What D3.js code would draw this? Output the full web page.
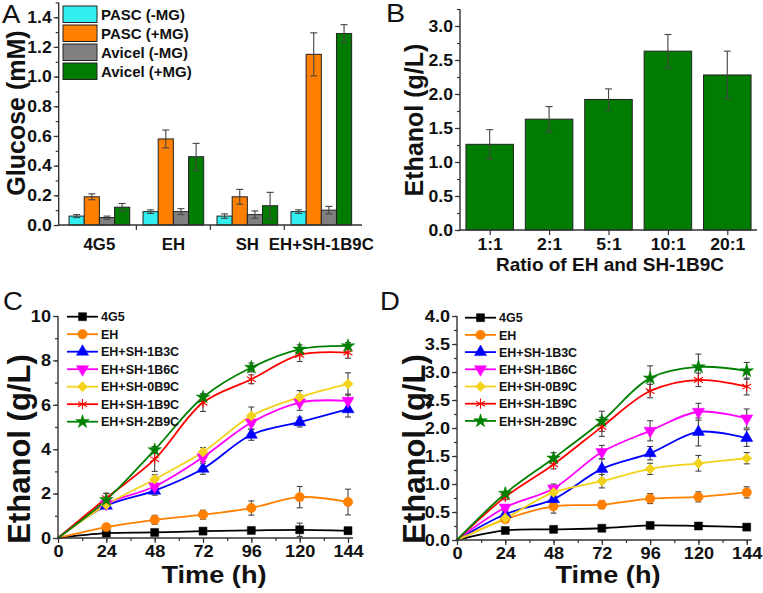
<!DOCTYPE html>
<html><head><meta charset="utf-8">
<script src="https://cdn.jsdelivr.net/npm/d3@7"></script>
<style>
body{margin:0;background:#fff}
svg{display:block}
text{font-family:"Liberation Sans",Arial,sans-serif;font-weight:bold;fill:#111}
</style></head><body>
<svg id="c" width="763" height="593"></svg>
<script>
// ---------- Panel A data ----------
const aGroups = ["4G5", "EH", "SH", "EH+SH-1B9C"];
const aSeries = ["PASC (-MG)", "PASC (+MG)", "Avicel (-MG)", "Avicel (+MG)"];
const aPascMinus = [0.06, 0.09, 0.06, 0.09];
const aPascMinusErr = [0.01, 0.012, 0.015, 0.012];
const aPascPlus = [0.19, 0.58, 0.19, 1.15];
const aPascPlusErr = [0.02, 0.06, 0.05, 0.145];
const aAviMinus = [0.05, 0.09, 0.07, 0.10];
const aAviMinusErr = [0.01, 0.02, 0.025, 0.025];
const aAviPlus = [0.12, 0.46, 0.13, 1.29];
const aAviPlusErr = [0.025, 0.09, 0.09, 0.06];
const aColors = ["#33eeee", "#ff8000", "#808080", "#007d00"];
const aYTicks = [0, 0.2, 0.4, 0.6, 0.8, 1.0, 1.2, 1.4];

// ---------- Panel B data ----------
const bRatios = ["1:1", "2:1", "5:1", "10:1", "20:1"];
const bEthanol = [1.26, 1.63, 1.92, 2.63, 2.28];
const bErr = [0.215, 0.185, 0.155, 0.245, 0.35];
const bYTicks = [0, 0.5, 1.0, 1.5, 2.0, 2.5, 3.0];

// ---------- Panels C / D data ----------
const times = [0, 24, 48, 72, 96, 120, 144];
const strains = ["4G5", "EH", "EH+SH-1B3C", "EH+SH-1B6C", "EH+SH-0B9C", "EH+SH-1B9C", "EH+SH-2B9C"];
const lineColors = ["#000000", "#ff8000", "#0000ff", "#ff00ff", "#f2d21a", "#ff0000", "#008000"];
const markerTypes = ["square", "circle", "triangle", "triangleDown", "diamond", "asterisk", "star"];

const c4G5 = [0, 0.22, 0.25, 0.31, 0.34, 0.37, 0.33];
const cEH = [0, 0.49, 0.82, 1.05, 1.35, 1.84, 1.62];
const c1B3C = [0, 1.45, 2.13, 3.12, 4.65, 5.22, 5.8];
const c1B6C = [0, 1.53, 2.32, 3.64, 5.2, 6.1, 6.18];
const c0B9C = [0, 1.5, 2.65, 3.87, 5.5, 6.34, 6.94];
const c1B9C = [0, 1.8, 3.55, 6.1, 7.15, 8.25, 8.35];
const c2B9C = [0, 1.72, 3.97, 6.34, 7.68, 8.5, 8.65];
const c4G5Err = [0, 0.05, 0.05, 0.05, 0.05, 0.3, 0.15];
const cEHErr = [0, 0.12, 0.2, 0.2, 0.32, 0.48, 0.58];
const c1B3CErr = [0, 0.1, 0.2, 0.25, 0.25, 0.22, 0.35];
const c1B6CErr = [0, 0.1, 0.15, 0.2, 0.3, 0.35, 0.3];
const c0B9CErr = [0, 0.1, 0.2, 0.2, 0.4, 0.3, 0.5];
const c1B9CErr = [0, 0.2, 0.55, 0.4, 0.2, 0.3, 0.25];
const c2B9CErr = [0, 0.3, 0.15, 0.15, 0.2, 0.2, 0.15];

const d4G5 = [0, 0.17, 0.19, 0.21, 0.26, 0.25, 0.23];
const dEH = [0, 0.37, 0.6, 0.63, 0.74, 0.77, 0.85];
const d1B3C = [0, 0.46, 0.73, 1.27, 1.55, 1.93, 1.82];
const d1B6C = [0, 0.58, 0.92, 1.57, 1.95, 2.29, 2.17];
const d0B9C = [0, 0.39, 0.85, 1.05, 1.27, 1.37, 1.46];
const d1B9C = [0, 0.77, 1.35, 2.02, 2.66, 2.86, 2.74];
const d2B9C = [0, 0.83, 1.46, 2.12, 2.89, 3.09, 3.02];
const d4G5Err = [0, 0.03, 0.03, 0.03, 0.03, 0.03, 0.04];
const dEHErr = [0, 0.05, 0.12, 0.07, 0.09, 0.09, 0.1];
const d1B3CErr = [0, 0.05, 0.06, 0.18, 0.12, 0.25, 0.15];
const d1B6CErr = [0, 0.05, 0.08, 0.12, 0.18, 0.15, 0.17];
const d0B9CErr = [0, 0.05, 0.08, 0.12, 0.1, 0.14, 0.1];
const d1B9CErr = [0, 0.05, 0.08, 0.17, 0.12, 0.12, 0.15];
const d2B9CErr = [0, 0.03, 0.1, 0.18, 0.22, 0.23, 0.15];
const cdXTicks = [0, 24, 48, 72, 96, 120, 144];
const cYTicks = [0, 2, 4, 6, 8, 10];
const dYTicks = [0, 0.5, 1.0, 1.5, 2.0, 2.5, 3.0, 3.5, 4.0];

// ---------- drawing ----------
const svg = d3.select("#c");
const AX = "#333";
const ERR = "#444";
const TSX = 1.1; // horizontal stretch of tick labels

function styleAxis(g, fs, sx) {
  g.select(".domain").remove();
  g.selectAll(".tick line").attr("stroke", AX).attr("stroke-width", 1.2);
  g.selectAll(".tick text").style("font-size", fs + "px").attr("fill", "#111");
  if (sx) {
    g.selectAll(".tick text").each(function () {
      const t = d3.select(this);
      const x = +t.attr("x") || 0;
      t.attr("transform", `translate(${x},0) scale(${sx},1) translate(${-x},0)`);
    });
  }
}
function vline(x, y1, y2) {
  svg.append("line").attr("x1", x).attr("x2", x).attr("y1", y1).attr("y2", y2)
    .attr("stroke", AX).attr("stroke-width", 1.4);
}
function hline(y, x1, x2) {
  svg.append("line").attr("x1", x1).attr("x2", x2).attr("y1", y).attr("y2", y)
    .attr("stroke", AX).attr("stroke-width", 1.4);
}
function leftAxis(x, scale, major, minor, fmt, fs) {
  svg.append("g").attr("transform", `translate(${x},0)`)
    .call(d3.axisLeft(scale).tickValues(minor).tickSize(3).tickFormat(""))
    .call(g => styleAxis(g, fs));
  svg.append("g").attr("transform", `translate(${x},0)`)
    .call(d3.axisLeft(scale).tickValues(major).tickSize(5).tickPadding(2).tickFormat(fmt))
    .call(g => styleAxis(g, fs, TSX));
}
function bottomAxis(y, scale, major, minor, fmt, fs, pad) {
  if (minor.length)
    svg.append("g").attr("transform", `translate(0,${y})`)
      .call(d3.axisBottom(scale).tickValues(minor).tickSize(3).tickFormat(""))
      .call(g => styleAxis(g, fs));
  svg.append("g").attr("transform", `translate(0,${y})`)
    .call(d3.axisBottom(scale).tickValues(major).tickSize(5).tickPadding(pad).tickFormat(fmt))
    .call(g => styleAxis(g, fs, TSX));
}
function label(txt, x, y, fs, opts = {}) {
  const sx = opts.sx || 1;
  const t = svg.append("text").attr("x", 0).attr("y", 0).text(txt)
    .style("font-size", fs + "px")
    .attr("transform", `translate(${x},${y}) scale(${sx},1)` + (opts.rotate ? " rotate(-90)" : ""));
  if (opts.anchor) t.attr("text-anchor", opts.anchor);
  if (opts.normal) t.style("font-weight", "normal");
  return t;
}
function errBar(x, y1, y2, cap) {
  const g = svg.append("g").attr("stroke", ERR).attr("stroke-width", 1.1);
  g.append("line").attr("x1", x).attr("x2", x).attr("y1", y1).attr("y2", y2);
  g.append("line").attr("x1", x - cap).attr("x2", x + cap).attr("y1", y1).attr("y2", y1);
  g.append("line").attr("x1", x - cap).attr("x2", x + cap).attr("y1", y2).attr("y2", y2);
}

// ===== Panel A =====
{
  const x0 = d3.scaleBand().domain(aGroups).range([58.7, 362]).paddingInner(0.18).paddingOuter(0.14);
  const x1 = d3.scaleBand().domain(aSeries).range([0, x0.bandwidth()]);
  const y = d3.scaleLinear().domain([0, 1.5]).range([225, 2.4]);
  const vals = [aPascMinus, aPascPlus, aAviMinus, aAviPlus];
  const errs = [aPascMinusErr, aPascPlusErr, aAviMinusErr, aAviPlusErr];
  aSeries.forEach((s, si) => {
    aGroups.forEach((gname, gi) => {
      const bx = x0(gname) + x1(s);
      svg.append("rect").attr("x", bx).attr("y", y(vals[si][gi]))
        .attr("width", x1.bandwidth()).attr("height", y(0) - y(vals[si][gi]))
        .attr("fill", aColors[si]).attr("stroke", "#222").attr("stroke-width", 1);
    });
  });
  aSeries.forEach((s, si) => {
    aGroups.forEach((gname, gi) => {
      const cx = x0(gname) + x1(s) + x1.bandwidth() / 2;
      errBar(cx, y(vals[si][gi] + errs[si][gi]), y(vals[si][gi] - errs[si][gi]), 3.5);
    });
  });
  const minor = d3.range(0, 1.51, 0.1).map(v => +v.toFixed(2));
  leftAxis(58.7, y, aYTicks, minor, d3.format(".1f"), 16);
  const step = x0.step();
  const seps = aGroups.slice(1).map(gn => x0(gn) - (step - x0.bandwidth()) / 2);
  svg.append("g").attr("stroke", AX).attr("stroke-width", 1.2).selectAll("line").data(seps).join("line")
    .attr("x1", d => d).attr("x2", d => d).attr("y1", 225).attr("y2", 230);
  aGroups.forEach(gn => label(gn, x0(gn) + x0.bandwidth() / 2, 250, 16, {anchor: "middle", sx: 1.05}));
  vline(58.7, 2.4, 225.5);
  hline(225, 58, 362);
  label("Glucose (mM)", 25, 113, 25, {anchor: "middle", rotate: true});
  label("A", 2, 23, 25, {normal: true, sx: 1.1});
  aSeries.forEach((s, i) => {
    const yy = 6 + i * 19;
    svg.append("rect").attr("x", 63).attr("y", yy).attr("width", 34).attr("height", 16.5)
      .attr("fill", aColors[i]).attr("stroke", "#222").attr("stroke-width", 1);
    label(s, 101, yy + 14, 15);
  });
}

// ===== Panel B =====
{
  const x = d3.scaleBand().domain(bRatios).range([460, 757]).paddingInner(0.2).paddingOuter(0.1);
  const y = d3.scaleLinear().domain([0, 3.25]).range([230, 9]);
  bRatios.forEach((r, i) => {
    svg.append("rect").attr("x", x(r)).attr("y", y(bEthanol[i])).attr("width", x.bandwidth())
      .attr("height", y(0) - y(bEthanol[i])).attr("fill", "#007d00").attr("stroke", "#222").attr("stroke-width", 1);
  });
  bRatios.forEach((r, i) => {
    errBar(x(r) + x.bandwidth() / 2, y(bEthanol[i] + bErr[i]), y(bEthanol[i] - bErr[i]), 3.5);
  });
  const minor = d3.range(0, 3.26, 0.25).map(v => +v.toFixed(2));
  leftAxis(460, y, bYTicks, minor, d3.format(".1f"), 16);
  const bx = d3.scalePoint().domain(bRatios).range([x(bRatios[0]) + x.bandwidth() / 2, x(bRatios[4]) + x.bandwidth() / 2]);
  bottomAxis(230, bx, bRatios, [], d => d, 16, 4);
  vline(460, 9, 230.5);
  hline(230, 459.5, 757);
  label("Ratio of EH and SH-1B9C", 610, 271, 19, {anchor: "middle"});
  label("Ethanol (g/L)", 423, 120, 25, {anchor: "middle", rotate: true});
  label("B", 386, 22, 25, {normal: true, sx: 1.15});
}

// ===== Marker helper =====
function marker(g, type, cx, cy, color) {
  let sym, size = 60, rot = 0, fill = color, stroke = color, sw = 0.5;
  if (type === "square") { sym = d3.symbolSquare; size = 64; }
  else if (type === "circle") { sym = d3.symbolCircle; size = 70; }
  else if (type === "triangle") { sym = d3.symbolTriangle; size = 64; }
  else if (type === "triangleDown") { sym = d3.symbolTriangle; size = 64; rot = 180; }
  else if (type === "diamond") { sym = d3.symbolSquare; size = 52; rot = 45; }
  else if (type === "asterisk") { sym = d3.symbolAsterisk; size = 75; fill = "none"; sw = 1.1; }
  else if (type === "star") { sym = d3.symbolStar; size = 58; }
  g.append("path").attr("d", d3.symbol(sym, size)())
    .attr("transform", `translate(${cx},${cy}) rotate(${rot})`)
    .attr("fill", fill).attr("stroke", stroke).attr("stroke-width", sw);
}

function linePanel(cfg) {
  const x = d3.scaleLinear().domain([0, 144]).range(cfg.xr);
  const y = d3.scaleLinear().domain([0, cfg.ymax]).range(cfg.yr);
  const line = d3.line().x((d, i) => x(times[i])).y(d => y(d)).curve(d3.curveCatmullRom.alpha(0.5));
  cfg.series.forEach((vals, si) => {
    vals.forEach((v, i) => {
      if (i === 0) return;
      const e = cfg.errs[si][i];
      errBar(x(times[i]), y(v + e), y(v - e), 3);
    });
  });
  cfg.series.forEach((vals, si) => {
    svg.append("path").attr("d", line(vals)).attr("fill", "none")
      .attr("stroke", lineColors[si]).attr("stroke-width", 1.8);
  });
  cfg.series.forEach((vals, si) => {
    const g = svg.append("g");
    vals.forEach((v, i) => { if (i > 0) marker(g, markerTypes[si], x(times[i]), y(v), lineColors[si]); });
  });
  const xminor = d3.range(0, 145, 12);
  bottomAxis(cfg.yr[0], x, cdXTicks, xminor, d3.format("d"), 16.5, 2);
  leftAxis(cfg.xr[0], y, cfg.yticks, cfg.yminor, cfg.fmt, 16.5);
  vline(cfg.xr[0], cfg.yr[1], cfg.yr[0] + 0.5);
  hline(cfg.yr[0], cfg.xr[0] - 0.5, cfg.xr[1] + 5);
  label("Time (h)", cfg.titleX, 583, 23, {anchor: "middle", sx: 1.18});
  label("Ethanol (g/L)", cfg.ytx, 449, 31, {anchor: "middle", rotate: true});
  label(cfg.letter, cfg.lx, 310, 25, {normal: true, sx: 1.1});
  strains.forEach((s, i) => {
    const yy = cfg.legY + i * cfg.legStep;
    svg.append("line").attr("x1", cfg.legX).attr("x2", cfg.legX + 31).attr("y1", yy).attr("y2", yy)
      .attr("stroke", lineColors[i]).attr("stroke-width", 1.8);
    marker(svg.append("g"), markerTypes[i], cfg.legX + 15.5, yy, lineColors[i]);
    label(s, cfg.legX + 34, yy + 4.6, 12.5);
  });
}

linePanel({
  xr: [58, 348], yr: [538, 316], ymax: 10,
  series: [c4G5, cEH, c1B3C, c1B6C, c0B9C, c1B9C, c2B9C],
  errs: [c4G5Err, cEHErr, c1B3CErr, c1B6CErr, c0B9CErr, c1B9CErr, c2B9CErr],
  yticks: cYTicks, yminor: d3.range(0, 10.1, 1), fmt: d3.format("d"),
  titleX: 214, ytx: 30, letter: "C", lx: 3, legX: 67, legY: 316.7, legStep: 17.5
});
linePanel({
  xr: [457, 746.7], yr: [540, 316], ymax: 4,
  series: [d4G5, dEH, d1B3C, d1B6C, d0B9C, d1B9C, d2B9C],
  errs: [d4G5Err, dEHErr, d1B3CErr, d1B6CErr, d0B9CErr, d1B9CErr, d2B9CErr],
  yticks: dYTicks, yminor: d3.range(0, 4.01, 0.25).map(v => +v.toFixed(2)), fmt: d3.format(".1f"),
  titleX: 608, ytx: 425, letter: "D", lx: 380, legX: 465, legY: 317.7, legStep: 17.2
});
</script>
</body></html>
